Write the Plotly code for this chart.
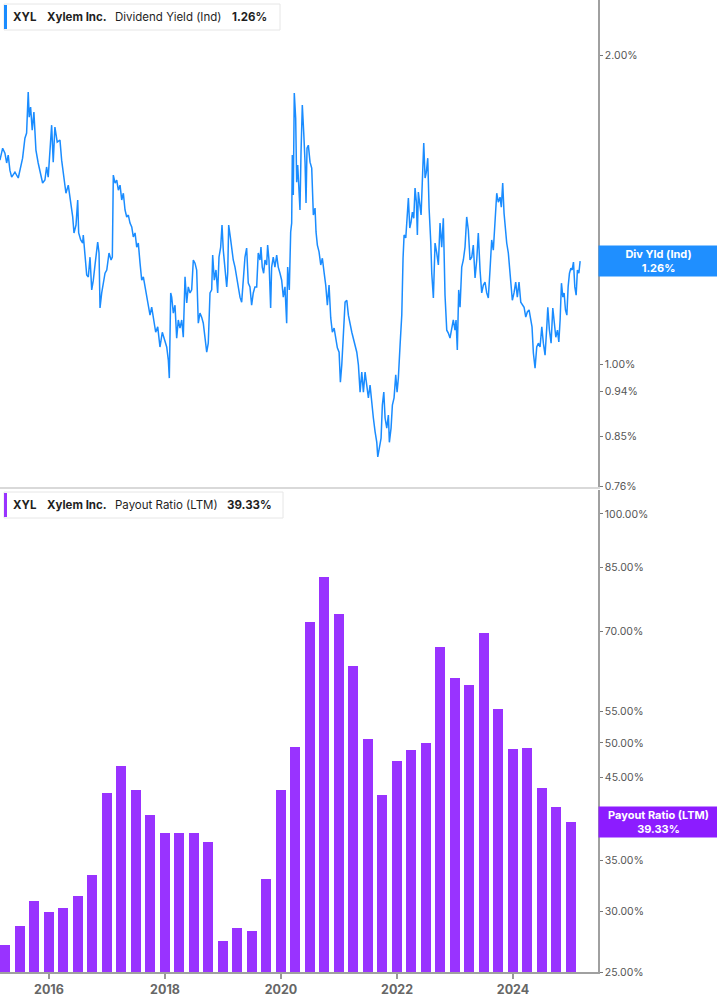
import plotly.graph_objects as go
from datetime import datetime
import math

# ---------------- data ----------------
# Dividend yield (Ind), % — time as decimal year
yield_t = [
    2015.155, 2015.184, 2015.202, 2015.241, 2015.271, 2015.298, 2015.327, 2015.357, 2015.414, 2015.471,
    2015.512, 2015.546, 2015.586, 2015.615, 2015.643, 2015.660, 2015.684, 2015.712, 2015.741, 2015.776,
    2015.815, 2015.857, 2015.891, 2015.931, 2015.960, 2015.988, 2016.017, 2016.047, 2016.074, 2016.103,
    2016.143, 2016.190, 2016.219, 2016.259, 2016.293, 2016.333, 2016.362, 2016.379, 2016.409, 2016.431,
    2016.466, 2016.495, 2016.512, 2016.547, 2016.581, 2016.591, 2016.621, 2016.650, 2016.678, 2016.707,
    2016.736, 2016.764, 2016.793, 2016.839, 2016.862, 2016.879, 2016.908, 2016.936, 2016.965, 2016.995,
    2017.034, 2017.069, 2017.091, 2017.108, 2017.138, 2017.167, 2017.195, 2017.224, 2017.253, 2017.281,
    2017.310, 2017.339, 2017.367, 2017.396, 2017.426, 2017.453, 2017.483, 2017.512, 2017.539, 2017.569,
    2017.598, 2017.626, 2017.655, 2017.684, 2017.712, 2017.741, 2017.770, 2017.798, 2017.839, 2017.874,
    2017.913, 2017.953, 2017.988, 2018.029, 2018.057, 2018.074, 2018.098, 2018.115, 2018.143, 2018.172,
    2018.201, 2018.229, 2018.258, 2018.288, 2018.315, 2018.345, 2018.374, 2018.401, 2018.431, 2018.460,
    2018.488, 2018.517, 2018.546, 2018.574, 2018.603, 2018.632, 2018.660, 2018.689, 2018.719, 2018.746,
    2018.776, 2018.805, 2018.822, 2018.850, 2018.879, 2018.908, 2018.931, 2018.960, 2018.983, 2019.005,
    2019.034, 2019.064, 2019.081, 2019.098, 2019.126, 2019.150, 2019.177, 2019.207, 2019.236, 2019.264,
    2019.293, 2019.322, 2019.350, 2019.379, 2019.408, 2019.436, 2019.465, 2019.494, 2019.522, 2019.551,
    2019.581, 2019.608, 2019.638, 2019.655, 2019.677, 2019.701, 2019.724, 2019.753, 2019.770, 2019.793,
    2019.822, 2019.839, 2019.867, 2019.896, 2019.926, 2019.953, 2019.983, 2020.012, 2020.040, 2020.069,
    2020.098, 2020.115, 2020.143, 2020.167, 2020.184, 2020.195, 2020.212, 2020.229, 2020.253, 2020.270,
    2020.288, 2020.310, 2020.327, 2020.345, 2020.367, 2020.391, 2020.414, 2020.431, 2020.448, 2020.471,
    2020.500, 2020.529, 2020.557, 2020.586, 2020.603, 2020.626, 2020.655, 2020.684, 2020.712, 2020.741,
    2020.770, 2020.798, 2020.827, 2020.856, 2020.884, 2020.914, 2020.943, 2020.970, 2021.000, 2021.022,
    2021.046, 2021.074, 2021.103, 2021.133, 2021.160, 2021.219, 2021.246, 2021.276, 2021.305, 2021.333,
    2021.362, 2021.391, 2021.419, 2021.448, 2021.477, 2021.505, 2021.534, 2021.564, 2021.591, 2021.621,
    2021.650, 2021.667, 2021.695, 2021.724, 2021.746, 2021.771, 2021.793, 2021.822, 2021.850, 2021.867,
    2021.896, 2021.919, 2021.948, 2021.977, 2022.000, 2022.022, 2022.052, 2022.081, 2022.103, 2022.121,
    2022.150, 2022.172, 2022.195, 2022.219, 2022.241, 2022.264, 2022.288, 2022.310, 2022.333, 2022.350,
    2022.367, 2022.414, 2022.436, 2022.460, 2022.483, 2022.505, 2022.529, 2022.552, 2022.581, 2022.598,
    2022.626, 2022.655, 2022.684, 2022.712, 2022.741, 2022.770, 2022.798, 2022.827, 2022.857, 2022.884,
    2022.913, 2022.943, 2022.970, 2022.999, 2023.017, 2023.039, 2023.063, 2023.086, 2023.115, 2023.143,
    2023.172, 2023.201, 2023.229, 2023.258, 2023.288, 2023.315, 2023.345, 2023.374, 2023.401, 2023.431,
    2023.460, 2023.488, 2023.517, 2023.546, 2023.574, 2023.603, 2023.632, 2023.660, 2023.689, 2023.719,
    2023.746, 2023.776, 2023.798, 2023.822, 2023.845, 2023.867, 2023.891, 2023.919, 2023.936, 2023.960,
    2023.988, 2024.017, 2024.046, 2024.074, 2024.103, 2024.133, 2024.160, 2024.190, 2024.219, 2024.246,
    2024.276, 2024.305, 2024.327, 2024.350, 2024.379, 2024.408, 2024.436, 2024.465, 2024.495, 2024.522,
    2024.551, 2024.581, 2024.598, 2024.626, 2024.655, 2024.684, 2024.707, 2024.736, 2024.764, 2024.788,
    2024.810, 2024.833, 2024.857, 2024.879, 2024.902, 2024.926, 2024.948, 2024.971, 2024.995, 2025.017,
    2025.040, 2025.063, 2025.086, 2025.108, 2025.133, 2025.155,
]
yield_v = [
    1.580, 1.616, 1.623, 1.605, 1.570, 1.598, 1.545, 1.521, 1.538, 1.518,
    1.552, 1.587, 1.660, 1.679, 1.841, 1.740, 1.780, 1.690, 1.760, 1.616,
    1.570, 1.535, 1.501, 1.511, 1.556, 1.521, 1.627, 1.709, 1.573, 1.702,
    1.645, 1.653, 1.580, 1.511, 1.467, 1.494, 1.451, 1.435, 1.391, 1.342,
    1.366, 1.445, 1.342, 1.321, 1.312, 1.336, 1.283, 1.221, 1.216, 1.271,
    1.181, 1.207, 1.249, 1.315, 1.283, 1.134, 1.173, 1.199, 1.226, 1.235,
    1.283, 1.263, 1.271, 1.528, 1.501, 1.511, 1.477, 1.494, 1.445, 1.467,
    1.413, 1.391, 1.397, 1.372, 1.360, 1.330, 1.342, 1.300, 1.312, 1.254,
    1.207, 1.216, 1.189, 1.160, 1.136, 1.116, 1.136, 1.111, 1.074, 1.087,
    1.039, 1.074, 1.055, 1.039, 1.009, 0.969, 1.173, 1.162, 1.121, 1.141,
    1.060, 1.104, 1.084, 1.104, 1.062, 1.216, 1.147, 1.189, 1.173, 1.181,
    1.263, 1.254, 1.235, 1.096, 1.121, 1.111, 1.096, 1.055, 1.027, 1.048,
    1.173, 1.181, 1.277, 1.207, 1.235, 1.173, 1.271, 1.300, 1.366, 1.291,
    1.226, 1.189, 1.226, 1.366, 1.330, 1.291, 1.263, 1.243, 1.216, 1.199,
    1.162, 1.149, 1.207, 1.271, 1.297, 1.199, 1.189, 1.141, 1.173, 1.189,
    1.189, 1.283, 1.263, 1.300, 1.243, 1.226, 1.263, 1.249, 1.306, 1.263,
    1.134, 1.243, 1.271, 1.243, 1.277, 1.243, 1.226, 1.207, 1.162, 1.189,
    1.096, 1.243, 1.181, 1.345, 1.372, 1.598, 1.461, 1.837, 1.736, 1.504,
    1.563, 1.494, 1.413, 1.609, 1.788, 1.683, 1.573, 1.435, 1.623, 1.634,
    1.573, 1.552, 1.397, 1.419, 1.345, 1.306, 1.286, 1.249, 1.268, 1.229,
    1.194, 1.141, 1.194, 1.109, 1.074, 1.084, 1.060, 1.037, 1.027, 0.960,
    0.998, 1.060, 1.149, 1.154, 1.116, 1.074, 1.060, 1.044, 1.027, 0.998,
    0.939, 0.982, 0.939, 0.982, 0.954, 0.927, 0.954, 0.912, 0.886, 0.859,
    0.839, 0.812, 0.834, 0.847, 0.912, 0.939, 0.886, 0.866, 0.892, 0.839,
    0.866, 0.912, 0.927, 0.976, 0.939, 0.969, 1.044, 1.116, 1.268, 1.336,
    1.327, 1.387, 1.451, 1.357, 1.375, 1.406, 1.387, 1.484, 1.438, 1.336,
    1.471, 1.397, 1.504, 1.642, 1.518, 1.538, 1.587, 1.419, 1.315, 1.226,
    1.160, 1.312, 1.283, 1.249, 1.372, 1.300, 1.387, 1.167, 1.079, 1.072,
    1.060, 1.087, 1.104, 1.079, 1.104, 1.032, 1.181, 1.136, 1.243, 1.263,
    1.300, 1.391, 1.351, 1.263, 1.271, 1.306, 1.213, 1.263, 1.342, 1.235,
    1.173, 1.194, 1.202, 1.173, 1.160, 1.235, 1.321, 1.291, 1.381, 1.467,
    1.438, 1.454, 1.422, 1.501, 1.403, 1.351, 1.312, 1.283, 1.243, 1.199,
    1.154, 1.173, 1.202, 1.162, 1.202, 1.149, 1.141, 1.136, 1.111, 1.124,
    1.129, 1.104, 1.087, 1.025, 0.991, 1.039, 1.048, 1.039, 1.087, 1.048,
    1.020, 1.087, 1.136, 1.079, 1.048, 1.134, 1.096, 1.062, 1.079, 1.051,
    1.104, 1.199, 1.162, 1.173, 1.129, 1.116, 1.189, 1.226, 1.240, 1.235,
    1.257, 1.189, 1.167, 1.235, 1.226, 1.260,
]

# Payout ratio (LTM), % — quarterly
payout_dates = [
    "2015-03-31", "2015-06-30", "2015-09-30", "2015-12-31",
    "2016-03-31", "2016-06-30", "2016-09-30", "2016-12-31",
    "2017-03-31", "2017-06-30", "2017-09-30", "2017-12-31",
    "2018-03-31", "2018-06-30", "2018-09-30", "2018-12-31",
    "2019-03-31", "2019-06-30", "2019-09-30", "2019-12-31",
    "2020-03-31", "2020-06-30", "2020-09-30", "2020-12-31",
    "2021-03-31", "2021-06-30", "2021-09-30", "2021-12-31",
    "2022-03-31", "2022-06-30", "2022-09-30", "2022-12-31",
    "2023-03-31", "2023-06-30", "2023-09-30", "2023-12-31",
    "2024-03-31", "2024-06-30", "2024-09-30", "2024-12-31",
]
payout_v = [
    27.1, 28.7, 31.0, 30.0, 30.3, 31.5, 33.5, 43.0, 46.6, 43.3,
    40.2, 38.1, 38.1, 38.1, 37.0, 27.5, 28.6, 28.3, 33.1, 43.3,
    49.4, 72.1, 82.6, 73.9, 63.1, 50.6, 42.7, 47.3, 48.9, 50.0,
    66.9, 60.9, 59.6, 69.7, 55.4, 49.1, 49.3, 43.6, 41.2, 39.33,
]

yield_ticks = [0.76, 0.85, 0.94, 1.00, 2.00]
payout_ticks = [25, 30, 35, 45, 50, 55, 70, 85, 100]
year_ticks = ["2016-01-01", "2018-01-01", "2020-01-01", "2022-01-01", "2024-01-01"]
year_labels = ["2016", "2018", "2020", "2022", "2024"]

last_yield = 1.26
last_payout = 39.33

# ---------------- helpers ----------------
def dec_to_date(t):
    y = int(t)
    a = datetime(y, 1, 1)
    b = datetime(y + 1, 1, 1)
    return a + (b - a) * (t - y)

yield_dates = [dec_to_date(t) for t in yield_t]

BLUE = "#1a8cff"
BLUE_TAG = "#1f8fff"
PURPLE = "#9933ff"
PURPLE_TAG = "#8c1cff"
FONT = "Inter"

W, H = 717, 1005
ML, MR, MT, MB = 0, 119, 0, 33
PW = W - ML - MR
PH = H - MT - MB

def px(xp):
    return (xp - ML) / PW

def py(yp):
    return 1 - (yp - MT) / PH

top_dom = [py(487), 1.0]
bot_dom = [0.0, py(490)]

xrange_ = ["2015-02-27", "2025-06-19"]

fig = go.Figure()
fig.add_trace(go.Scatter(
    x=yield_dates, y=yield_v, mode="lines",
    line=dict(color=BLUE, width=1.5), xaxis="x", yaxis="y", showlegend=False,
))
fig.add_trace(go.Bar(
    x=payout_dates, y=payout_v, marker=dict(color=PURPLE, line=dict(width=0)),
    width=63 * 86400000, xaxis="x2", yaxis="y2", showlegend=False,
))

fig.update_layout(
    width=W, height=H,
    margin=dict(l=ML, r=MR, t=MT, b=MB),
    paper_bgcolor="white", plot_bgcolor="white",
    font=dict(family=FONT, color="#555"),
    bargap=0,
    xaxis=dict(
        domain=[0, 1], anchor="y", range=xrange_, type="date",
        showticklabels=False, ticks="", showgrid=False, zeroline=False,
        showline=True, linecolor="#d9d9d9", linewidth=2,
    ),
    yaxis=dict(
        domain=top_dom, anchor="x", side="right", type="log",
        range=[math.log10(0.759), math.log10(2.263)],
        tickvals=yield_ticks, ticktext=[f"{v:.2f}%" for v in yield_ticks],
        ticks="outside", ticklen=3, tickcolor="#777", tickwidth=1,
        tickfont=dict(size=10.5, color="#555", family=FONT),
        showgrid=False, zeroline=False,
        showline=True, linecolor="#a0a0a0", linewidth=1.5,
    ),
    xaxis2=dict(
        domain=[0, 1], anchor="y2", range=xrange_, type="date",
        tickvals=year_ticks, ticktext=year_labels,
        ticks="outside", ticklen=5, tickcolor="#999", tickwidth=1.5,
        tickfont=dict(size=12.5, color="#666", family=FONT, weight="bold"),
        showgrid=False, zeroline=False,
        showline=True, linecolor="#a0a0a0", linewidth=2,
    ),
    yaxis2=dict(
        domain=bot_dom, anchor="x2", side="right", type="log",
        range=[math.log10(25), math.log10(107.5)],
        tickvals=payout_ticks, ticktext=[f"{v:.2f}%" for v in payout_ticks],
        ticks="outside", ticklen=3, tickcolor="#777", tickwidth=1,
        tickfont=dict(size=10.5, color="#555", family=FONT),
        showgrid=False, zeroline=False,
        showline=True, linecolor="#a0a0a0", linewidth=1.5,
    ),
)

shapes = []
annotations = []

def legend_box(x0, x1, y0, y1, color, items):
    shapes.append(dict(type="rect", xref="paper", yref="paper",
                       x0=px(x0), x1=px(x1), y0=py(y1), y1=py(y0),
                       line=dict(color="#e6e6e6", width=1), fillcolor="white", layer="above"))
    shapes.append(dict(type="rect", xref="paper", yref="paper",
                       x0=px(x0), x1=px(x0 + 3), y0=py(y1 - 1), y1=py(y0 + 1),
                       line=dict(width=0), fillcolor=color, layer="above"))
    yc = py((y0 + y1) / 2)
    for xpos, txt, bold in items:
        annotations.append(dict(
            xref="paper", yref="paper", x=px(xpos), y=yc, xanchor="left", yanchor="middle",
            text=f"<b>{txt}</b>" if bold else txt, showarrow=False,
            font=dict(size=11.5, color="#1f1f1f", family=FONT),
        ))

legend_box(4, 280, 4, 30, BLUE, [
    (11, "XYL", True), (45, "Xylem Inc.", True),
    (113, "Dividend Yield (Ind)", False), (230, f"{last_yield:.2f}%", True),
])
legend_box(4, 283, 492, 518, PURPLE, [
    (11, "XYL", True), (45, "Xylem Inc.", True),
    (113, "Payout Ratio (LTM)", False), (225, f"{last_payout:.2f}%", True),
])

# right-side value tags
annotations.append(dict(
    xref="paper", yref="y", x=1.0, y=math.log10(last_yield), xanchor="left", yanchor="middle",
    text=f"<b>Div Yld (Ind)</b><br><b>{last_yield:.2f}%</b>", showarrow=False,
    bgcolor=BLUE_TAG, width=117, height=28, borderpad=1, align="center",
    font=dict(size=11, color="white", family=FONT),
))
annotations.append(dict(
    xref="paper", yref="y2", x=1.0, y=math.log10(last_payout), xanchor="left", yanchor="middle",
    text=f"<b>Payout Ratio (LTM)</b><br><b>{last_payout:.2f}%</b>", showarrow=False,
    bgcolor=PURPLE_TAG, width=117, height=28, borderpad=1, align="center",
    font=dict(size=11, color="white", family=FONT),
))

fig.update_layout(shapes=shapes, annotations=annotations)
fig.write_html("out.html", config={"displayModeBar": False},
               post_script="document.body.style.margin='0';")
